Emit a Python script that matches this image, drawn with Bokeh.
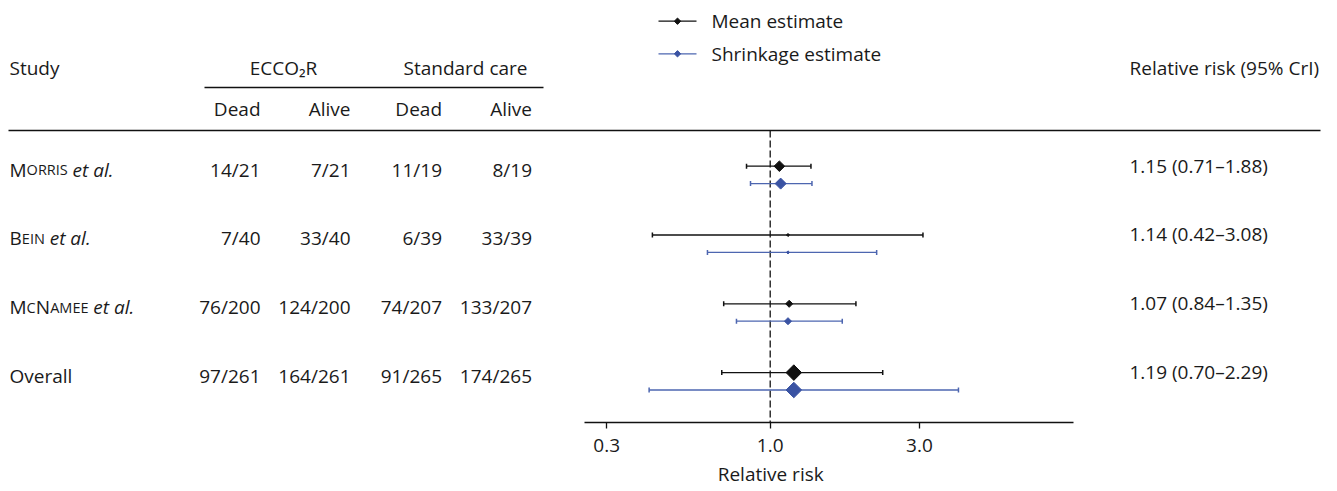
import math
from bokeh.plotting import figure
from bokeh.models import Range1d, LogScale, LogAxis, FixedTicker, PrintfTickFormatter, Title
from bokeh.core.properties import value
from bokeh.embed import file_html
from bokeh.resources import INLINE

# ---------------- data ----------------
studies = ["Morris", "Bein", "McNamee", "Overall"]
is_trial = [True, True, True, False]
ecco_dead = ["14/21", "7/40", "76/200", "97/261"]
ecco_alive = ["7/21", "33/40", "124/200", "164/261"]
sc_dead = ["11/19", "6/39", "74/207", "91/265"]
sc_alive = ["8/19", "33/39", "133/207", "174/265"]
rr_text = ["1.15 (0.71\u20131.88)", "1.14 (0.42\u20133.08)",
           "1.07 (0.84\u20131.35)", "1.19 (0.70\u20132.29)"]

# plotted estimates
mean_est = [1.07, 1.14, 1.15, 1.19]
mean_lo = [0.84, 0.42, 0.71, 0.70]
mean_hi = [1.35, 3.08, 1.88, 2.29]
shrink_est = [1.08, 1.14, 1.14, 1.19]
shrink_lo = [0.865, 0.63, 0.78, 0.41]
shrink_hi = [1.36, 2.19, 1.70, 4.00]
rr_ticks = [0.3, 1.0, 3.0]
null_rr = 1.0
legend_labels = ["Mean estimate", "Shrinkage estimate"]
x_title = "Relative risk"

# ---------------- styles / layout ----------------
mean_size = [7.5, 2.2, 5.0, 11.0]
shrink_size = [7.8, 2.2, 5.0, 11.0]
FONT_NAME = "Open Sans"
FONT = value(FONT_NAME)
FS_PX = "19px"
FS = value(FS_PX)
SC_PX = 14.5
TXT = "#1a1a1a"
BLACK = "#111111"
BLUE_L = "#4d66b0"
BLUE_M = "#3a53a3"

W, H = 1337, 491
Y0, ROW = 165.7, 68.8       # page y of first row, px per row
FRAME_BOTTOM = 422
def X(px):
    return px
def Y(py):                  # page y -> row units
    return (py - Y0) / ROW

PX_DEC = 312.7              # px per decade on the log axis
X_ONE = 769.7               # frame x of RR = 1
rr_start = 10 ** (-X_ONE / PX_DEC)
rr_end = 10 ** ((W - X_ONE) / PX_DEC)

p = figure(width=W, height=H, output_backend="svg", toolbar_location=None,
           x_range=Range1d(0, W), y_range=Range1d(Y(FRAME_BOTTOM), Y(0)),
           x_axis_location=None, y_axis_location=None,
           min_border=0, min_border_bottom=H - FRAME_BOTTOM, outline_line_color=None,
           background_fill_color="white", border_fill_color="white")
p.xgrid.grid_line_color = None
p.ygrid.grid_line_color = None
p.extra_x_ranges = {"rr": Range1d(rr_start, rr_end)}
p.extra_x_scales = {"rr": LogScale()}

# ---------------- axis ----------------
ax = LogAxis(x_range_name="rr", bounds=(0.2547, 9.33),
             ticker=FixedTicker(ticks=rr_ticks, minor_ticks=[]),
             formatter=PrintfTickFormatter(format="%.1f"),
             axis_line_color=BLACK, axis_line_width=1.3,
             major_tick_line_color=BLACK, major_tick_line_width=1.3,
             major_tick_out=6, major_tick_in=0,
             minor_tick_out=0, minor_tick_in=0,
             major_label_text_font=FONT_NAME, major_label_text_font_size=FS_PX,
             major_label_text_color=TXT, major_label_standoff=10)
p.add_layout(ax, "below")
# axis title, centred under RR = 1 (label width ~105 px)
p.add_layout(Title(text=x_title, align="left", offset=X_ONE - 52.5, standoff=9,
                   text_font=FONT_NAME, text_font_size=FS_PX,
                   text_font_style="normal", text_color=TXT), "below")

# ---------------- table header ----------------
def txt(x, y, t, align="left", size=FS, style="normal"):
    p.text(x=x, y=y, text=t, text_font=FONT, text_font_size=size,
           text_font_style=style, text_color=TXT, text_align=align,
           text_baseline="middle")

txt([X(9)], [Y(67)], ["Study"])
txt([X(283), X(465)], [Y(67)] * 2, ["ECCO\u2082R", "Standard care"], align="center")
col_right = [X(260), X(350), X(441.5), X(531.5)]
txt(col_right, [Y(108)] * 4, ["Dead", "Alive", "Dead", "Alive"], align="right")
txt([X(1129)], [Y(67)], ["Relative risk (95% CrI)"])
p.segment(x0=[X(204), X(8)], x1=[X(543), X(1320)], y0=[Y(87), Y(130)],
          y1=[Y(87), Y(130)], line_color=BLACK, line_width=1.3)

# ---------------- legend ----------------
leg_y = [Y(20.7), Y(53.3)]
p.segment(x0=[X(658)] * 2, x1=[X(696)] * 2, y0=leg_y, y1=leg_y,
          line_color=[BLACK, BLUE_L], line_width=1.3)
p.scatter(x=[X(677)] * 2, y=leg_y, marker="square", angle=math.pi / 4, size=4.5,
          fill_color=[BLACK, BLUE_M], line_color=[BLACK, BLUE_M])
txt([X(711)] * 2, leg_y, legend_labels)

# ---------------- study names (small caps) ----------------
CAPW = {"A": .64, "B": .65, "C": .63, "E": .56, "I": .29, "M": .90,
        "N": .76, "O": .78, "R": .62, "S": .55}
rows = list(range(len(studies)))
left_y = [r + 0.05 for r in rows]
for name, trial, yy in zip(studies, is_trial, left_y):
    if not trial:
        txt([X(9)], [yy], [name])
        continue
    runs = []
    for ch in name:
        up = ch.isupper()
        if runs and runs[-1][1] == up:
            runs[-1][0] += ch
        else:
            runs.append([ch, up])
    x = X(9)
    for s, up in runs:
        fs = 19 if up else SC_PX
        txt([x], [yy], [s.upper()], size=value(f"{fs}px"))
        x += sum(CAPW[c] for c in s.upper()) * fs
    txt([x + 4.5], [yy], ["et al."], style="italic")

# ---------------- table body ----------------
for col, vals in zip(col_right, [ecco_dead, ecco_alive, sc_dead, sc_alive]):
    txt([col] * len(vals), left_y, vals, align="right")
txt([X(1129)] * len(rr_text), [r - 0.01 for r in rows], rr_text)

# ---------------- forest plot ----------------
p.segment(x0=[null_rr], x1=[null_rr], y0=[Y(130)], y1=[Y(FRAME_BOTTOM)], x_range_name="rr",
          line_color=BLACK, line_width=1.3, line_dash="7 3")

srows = [r + 17.4 / ROW for r in rows]
for est, lo, hi, yy, sz, lc, mc in [
        (mean_est, mean_lo, mean_hi, rows, mean_size, BLACK, BLACK),
        (shrink_est, shrink_lo, shrink_hi, srows, shrink_size, BLUE_L, BLUE_M)]:
    p.segment(x0=lo, x1=hi, y0=yy, y1=yy, x_range_name="rr",
              line_color=lc, line_width=1.3)
    p.scatter(x=lo + hi, y=yy + yy, marker="dash", angle=math.pi / 2, size=5,
              line_color=lc, line_width=1.5, x_range_name="rr")
    p.scatter(x=est, y=yy, marker="square", angle=math.pi / 4, size=sz,
              fill_color=mc, line_color=mc, line_width=1, x_range_name="rr")

open("out.html", "w").write(file_html(p, INLINE))
